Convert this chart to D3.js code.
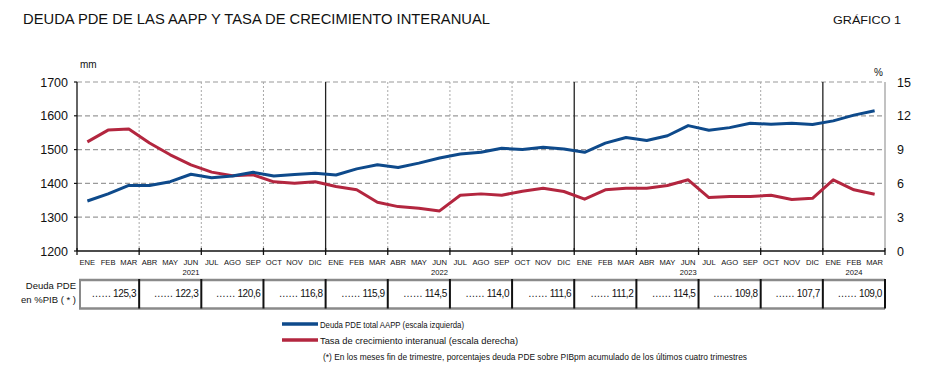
<!DOCTYPE html>
<html>
<head>
<meta charset="utf-8">
<script src="https://cdn.jsdelivr.net/npm/d3@7"></script>
<style>
  body { margin: 0; background: #fff; }
  text { font-family: "Liberation Sans", Arial, sans-serif; fill: #111; }
</style>
</head>
<body>
<div class="graph"></div>
<script>
// months from ENE 2021 to MAR 2024
const monthNames = ["ENE","FEB","MAR","ABR","MAY","JUN","JUL","AGO","SEP","OCT","NOV","DIC"];
const years = [2021, 2022, 2023, 2024];

// Deuda PDE total AAPP, mm (left scale)
const deuda = [1348,1369,1394,1394,1405,1427,1417,1422,1433,1422,1426,1430,
               1425,1443,1455,1447,1460,1475,1487,1492,1504,1500,1507,1502,
               1492,1519,1536,1527,1541,1571,1557,1565,1578,1575,1578,1574,
               1585,1602,1615];

// Tasa de crecimiento interanual, % (right scale)
const tasa = [9.69,10.73,10.82,9.58,8.54,7.65,7.0,6.67,6.76,6.14,6.02,6.14,
              5.72,5.43,4.33,3.94,3.80,3.56,4.95,5.07,4.95,5.31,5.57,5.28,
              4.60,5.43,5.57,5.57,5.81,6.32,4.74,4.83,4.83,4.95,4.57,4.68,
              6.32,5.43,5.04];

// Deuda PDE en %PIB, fin de trimestre
const pctPIB = ["125,3","122,3","120,6","116,8","115,9","114,5","114,0","111,6","111,2","114,5","109,8","107,7","109,0"];

const leftTicks = [1200,1300,1400,1500,1600,1700];
const rightTicks = [0,3,6,9,12,15];

const months = [];
years.forEach(y => monthNames.forEach((m, j) => {
  if (months.length < deuda.length) months.push({label: m, year: y, idx: j});
}));

const W = 931, H = 377;
const pLeft = 77, pRight = 885, pTop = 82, pBottom = 251;
const blue = "#0e4a8b", red = "#b3263f";

const svg = d3.select(".graph").append("svg").attr("width", W).attr("height", H);

const x = d3.scaleBand().domain(d3.range(months.length)).range([pLeft, pRight]);
const yL = d3.scaleLinear().domain([1200, 1700]).range([pBottom, pTop]);
const yR = d3.scaleLinear().domain([0, 15]).range([pBottom, pTop]);
const bw = x.bandwidth();
const edge = i => pLeft + i * bw;

// title (condensed to the original's narrow face)
svg.append("text").attr("x", 23).attr("y", 24).attr("font-size", 14)
  .attr("textLength", 467).attr("lengthAdjust", "spacingAndGlyphs")
  .text("DEUDA  PDE  DE  LAS AAPP Y TASA DE CRECIMIENTO  INTERANUAL");
svg.append("text").attr("x", 833).attr("y", 24).attr("font-size", 11.5)
  .attr("textLength", 68).attr("lengthAdjust", "spacingAndGlyphs").text("GRÁFICO 1");

// horizontal grid
svg.append("g").selectAll("line").data(leftTicks.slice(1)).join("line")
  .attr("x1", pLeft).attr("x2", pRight)
  .attr("y1", d => yL(d)).attr("y2", d => yL(d))
  .attr("stroke", "#9a9a9a").attr("stroke-width", 1.2).attr("stroke-dasharray", "5,3");

// vertical grid at quarter boundaries
const qb = d3.range(3, months.length + 1, 3);
svg.append("g").selectAll("line").data(qb.filter(i => i % 12 !== 0 && i < months.length)).join("line")
  .attr("x1", d => edge(d)).attr("x2", d => edge(d)).attr("y1", pTop).attr("y2", pBottom)
  .attr("stroke", "#a8a8a8").attr("stroke-width", 1).attr("stroke-dasharray", "2,2");
svg.append("g").selectAll("line").data(qb.filter(i => i % 12 === 0)).join("line")
  .attr("x1", d => edge(d)).attr("x2", d => edge(d)).attr("y1", pTop).attr("y2", pBottom)
  .attr("stroke", "#222").attr("stroke-width", 1.3);
svg.append("line").attr("x1", pRight).attr("x2", pRight).attr("y1", pTop).attr("y2", pBottom)
  .attr("stroke", "#999").attr("stroke-width", 1.2);

// axes
svg.append("line").attr("x1", pLeft).attr("x2", pLeft).attr("y1", pTop).attr("y2", pBottom).attr("stroke", "#111").attr("stroke-width", 1.3);
svg.append("line").attr("x1", pLeft).attr("x2", pRight).attr("y1", pBottom).attr("y2", pBottom).attr("stroke", "#111").attr("stroke-width", 1.3);
svg.append("g").selectAll("line").data([0].concat(qb)).join("line")
  .attr("x1", d => edge(d)).attr("x2", d => edge(d)).attr("y1", pBottom - 3).attr("y2", pBottom + 4)
  .attr("stroke", "#111").attr("stroke-width", 1.3);
svg.append("g").selectAll("line").data(leftTicks).join("line")
  .attr("x1", pLeft - 3).attr("x2", pLeft).attr("y1", d => yL(d)).attr("y2", d => yL(d))
  .attr("stroke", "#111").attr("stroke-width", 1.2);

// tick labels
svg.append("g").selectAll("text").data(leftTicks).join("text")
  .attr("x", 68).attr("y", d => yL(d) + 4.5).attr("text-anchor", "end").attr("font-size", 12.5).text(d => d);
svg.append("g").selectAll("text").data(rightTicks).join("text")
  .attr("x", 897).attr("y", d => yR(d) + 4.5).attr("font-size", 12.5).text(d => d);
svg.append("text").attr("x", 80).attr("y", 68).attr("font-size", 10).text("mm");
svg.append("text").attr("x", 874).attr("y", 76).attr("font-size", 10).text("%");

// month labels
svg.append("g").selectAll("text").data(months).join("text")
  .attr("x", (d, i) => x(i) + bw / 2).attr("y", 265).attr("text-anchor", "middle")
  .attr("font-size", 7.6).text(d => d.label);
svg.append("g").selectAll("text").data(months.filter(d => d.idx === 5 || (d.year === 2024 && d.idx === 1))).join("text")
  .attr("x", d => x(months.indexOf(d)) + bw / 2).attr("y", 275).attr("text-anchor", "middle")
  .attr("font-size", 7.6).text(d => d.year);

// lines
const lineL = d3.line().x((d, i) => x(i) + bw / 2).y(d => yL(d));
const lineR = d3.line().x((d, i) => x(i) + bw / 2).y(d => yR(d));
svg.append("path").datum(tasa).attr("d", lineR).attr("fill", "none").attr("stroke", red).attr("stroke-width", 3).attr("stroke-linejoin", "round");
svg.append("path").datum(deuda).attr("d", lineL).attr("fill", "none").attr("stroke", blue).attr("stroke-width", 3).attr("stroke-linejoin", "round");

// table of %PIB
const tTop = 280, tBot = 308.5;
svg.append("line").attr("x1", pLeft + 2).attr("x2", pRight).attr("y1", tTop).attr("y2", tTop).attr("stroke", "#8a8a8a").attr("stroke-width", 2.5);
svg.append("line").attr("x1", pLeft + 2).attr("x2", pRight).attr("y1", tBot).attr("y2", tBot).attr("stroke", "#8a8a8a").attr("stroke-width", 2.5);
svg.append("line").attr("x1", pLeft + 3).attr("x2", pLeft + 3).attr("y1", tTop).attr("y2", tBot).attr("stroke", "#8a8a8a").attr("stroke-width", 2);
svg.append("g").selectAll("line").data(qb).join("line")
  .attr("x1", d => edge(d)).attr("x2", d => edge(d)).attr("y1", tTop - 1).attr("y2", tBot)
  .attr("stroke", "#111").attr("stroke-width", 2);
svg.append("g").selectAll("text").data(pctPIB).join("text")
  .attr("x", (d, i) => edge(qb[i]) - 3).attr("y", 297).attr("text-anchor", "end")
  .attr("font-size", 10).attr("letter-spacing", -0.4).text(d => "…… " + d);
svg.append("text").attr("x", 76).attr("y", 289).attr("text-anchor", "end").attr("font-size", 9.5).text("Deuda PDE");
svg.append("text").attr("x", 76).attr("y", 303).attr("text-anchor", "end").attr("font-size", 9.5).text("en %PIB ( * )");

// legend
const legend = svg.append("g");
const items = [
  {t: "Deuda PDE total AAPP (escala izquierda)", c: blue, w: 144},
  {t: "Tasa de crecimiento interanual (escala derecha)", c: red, w: 198}
];
items.forEach((d, i) => {
  legend.append("line").attr("x1", 282).attr("x2", 318).attr("y1", 324 + i * 16).attr("y2", 324 + i * 16)
    .attr("stroke", d.c).attr("stroke-width", 3.5);
  legend.append("text").attr("x", 320).attr("y", 327.5 + i * 16).attr("font-size", 9.5)
    .attr("textLength", d.w).attr("lengthAdjust", "spacingAndGlyphs").text(d.t);
});
legend.append("text").attr("x", 323).attr("y", 360).attr("font-size", 9.5)
  .attr("textLength", 424).attr("lengthAdjust", "spacingAndGlyphs")
  .text("(*) En los meses fin de trimestre, porcentajes deuda PDE sobre PIBpm acumulado de los últimos cuatro trimestres");
</script>
</body>
</html>
